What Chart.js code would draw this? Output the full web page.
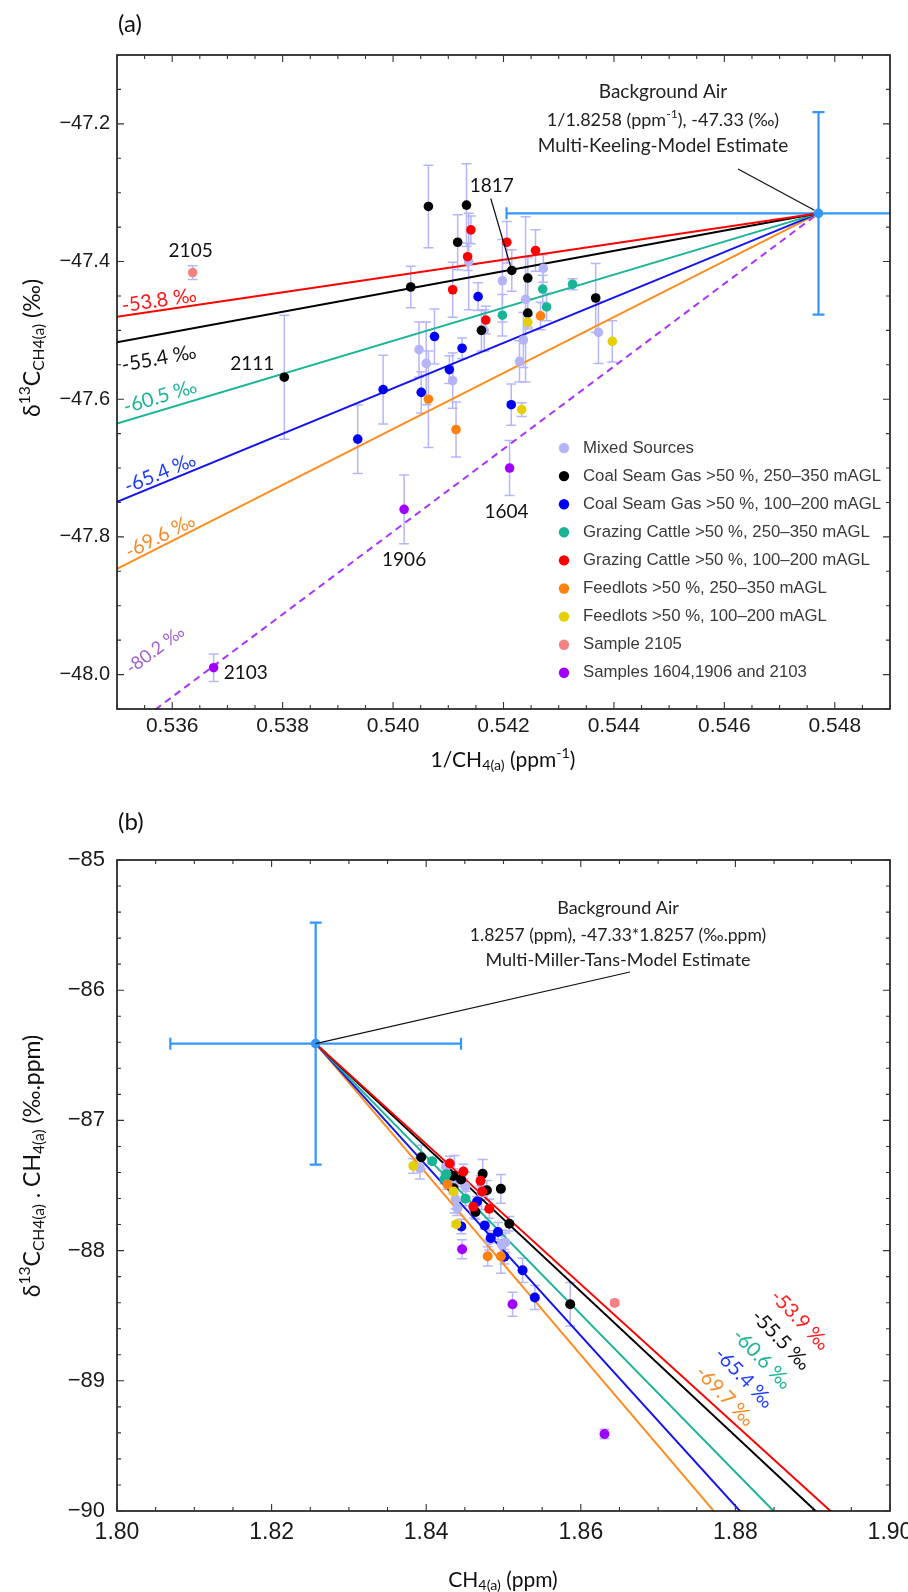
<!DOCTYPE html>
<html><head><meta charset="utf-8">
<script src="https://cdn.jsdelivr.net/npm/chart.js@4.4.1/dist/chart.umd.min.js"></script>
<style>
html,body{margin:0;padding:0;background:#fff;}
body{width:908px;height:1592px;position:relative;overflow:hidden;}
#ca{position:absolute;left:0;top:0;}
#cb{position:absolute;left:0;top:800px;}
</style></head><body>
<canvas id="ca" width="908" height="800"></canvas>
<canvas id="cb" width="908" height="792"></canvas>
<script>
// ---------------- DATA (panel a: x = 1/CH4 (ppm^-1), y = δ13C (‰), e = δ13C error) ----------------
const mixedX = [0.54047, 0.54060, 0.54108, 0.54198, 0.54165, 0.54272, 0.54372, 0.54236, 0.54229, 0.54137, 0.54240];
const mixedY = [-47.528, -47.548, -47.573, -47.428, -47.500, -47.410, -47.503, -47.514, -47.545, -47.400, -47.455];
const mixedE = [0.04, 0.06, 0.04, 0.06, 0.03, 0.02, 0.045, 0.04, 0.03, 0.07, 0.12];

const coal250X = [0.54064, 0.54133, 0.54117, 0.54032, 0.54160, 0.54215, 0.54244, 0.54244, 0.54367, 0.53803];
const coal250Y = [-47.320, -47.318, -47.372, -47.437, -47.500, -47.413, -47.424, -47.475, -47.453, -47.568];
const coal250E = [0.06, 0.06, 0.04, 0.03, 0.03, 0.03, 0.03, 0.02, 0.05, 0.09];

const coal100X = [0.54154, 0.54075, 0.54125, 0.54102, 0.53982, 0.54051, 0.53936, 0.54214];
const coal100Y = [-47.451, -47.509, -47.526, -47.557, -47.586, -47.590, -47.658, -47.608];
const coal100E = [0.02, 0.04, 0.015, 0.02, 0.05, 0.03, 0.05, 0.03];

const graze250X = [0.54198, 0.54271, 0.54278, 0.54325];
const graze250Y = [-47.478, -47.440, -47.466, -47.433];
const graze250E = [0.03, 0.02, 0.02, 0.008];

const graze100X = [0.54141, 0.54135, 0.54108, 0.54168, 0.54206, 0.54258];
const graze100Y = [-47.354, -47.393, -47.441, -47.485, -47.372, -47.384];
const graze100E = [0.02, 0.02, 0.04, 0.02, 0.03, 0.03];

const feed250X = [0.54064, 0.54114, 0.54267];
const feed250Y = [-47.600, -47.644, -47.479];
const feed250E = [0.07, 0.04, 0.02];

const feed100X = [0.54244, 0.54233, 0.54397];
const feed100Y = [-47.488, -47.615, -47.516];
const feed100E = [0.01, 0.01, 0.03];

const s2105X = [0.53637];
const s2105Y = [-47.416];
const s2105E = [0.01];

const sPurpleX = [0.54211, 0.54020, 0.53675];   // 1604, 1906, 2103
const sPurpleY = [-47.700, -47.760, -47.990];
const sPurpleE = [0.04, 0.05, 0.02];

const seriesNames = ['Mixed Sources', 'Coal Seam Gas >50 %, 250–350 mAGL', 'Coal Seam Gas >50 %, 100–200 mAGL',
  'Grazing Cattle >50 %, 250–350 mAGL', 'Grazing Cattle >50 %, 100–200 mAGL', 'Feedlots >50 %, 250–350 mAGL',
  'Feedlots >50 %, 100–200 mAGL', 'Sample 2105', 'Samples 1604,1906 and 2103'];
const seriesColors = ['rgb(180,180,246)', '#000000', 'rgb(0,0,245)', 'rgb(24,180,150)', 'rgb(255,0,0)',
  'rgb(255,128,10)', 'rgb(228,208,0)', 'rgb(245,130,130)', 'rgb(160,0,255)'];

// Background air estimates
const bgInv = 1 / 1.8258, bgDelta = -47.33, bgDeltaErr = 0.147, bgInvErr = 0.00565;
const bgCH4 = 1.8257, bgMT = -47.33 * 1.8257, bgMTErr = 0.93, bgCH4Err = 0.0188;

// source signatures
const keelingSig = [-53.8, -55.4, -60.5, -65.4, -69.6, -80.2];
const keelingColors = ['rgb(255,0,0)', '#000', 'rgb(26,180,150)', 'rgb(20,20,240)', 'rgb(255,140,30)', 'rgb(170,50,255)'];
const keelingLabelColors = ['rgb(255,20,20)', '#111', 'rgb(30,180,150)', 'rgb(30,60,255)', 'rgb(245,140,40)', 'rgb(160,95,205)'];
const millerSig = [-53.9, -55.5, -60.6, -65.4, -69.7];
const millerColors = ['rgb(255,0,0)', '#000', 'rgb(26,180,150)', 'rgb(20,20,240)', 'rgb(255,140,30)'];
const millerLabelColors = ['rgb(255,30,30)', '#111', 'rgb(30,180,150)', 'rgb(30,60,255)', 'rgb(245,140,40)'];

// axes
const xTicksA = [0.536, 0.538, 0.540, 0.542, 0.544, 0.546, 0.548];
const xTickLabelsA = ['0.536', '0.538', '0.540', '0.542', '0.544', '0.546', '0.548'];
const yTicksA = [-47.2, -47.4, -47.6, -47.8, -48.0];
const yTickLabelsA = ['−47.2', '−47.4', '−47.6', '−47.8', '−48.0'];
const xTicksB = [1.80, 1.82, 1.84, 1.86, 1.88, 1.90];
const xTickLabelsB = ['1.80', '1.82', '1.84', '1.86', '1.88', '1.90'];
const yTicksB = [-85, -86, -87, -88, -89, -90];
const yTickLabelsB = ['−85', '−86', '−87', '−88', '−89', '−90'];

// ---------------- helpers ----------------
const seriesX = [mixedX, coal250X, coal100X, graze250X, graze100X, feed250X, feed100X, s2105X, sPurpleX];
const seriesY = [mixedY, coal250Y, coal100Y, graze250Y, graze100Y, feed250Y, feed100Y, s2105Y, sPurpleY];
const seriesE = [mixedE, coal250E, coal100E, graze250E, graze100E, feed250E, feed100E, s2105E, sPurpleE];

const FAM = 'Lato, "Open Sans", sans-serif';
const TICKFAM = '"Liberation Sans", Arial, sans-serif';

function richWidth(ctx, parts, size, fam) {
  let w = 0;
  for (const [t, m] of parts) { ctx.font = (m ? size * 0.68 : size) + 'px ' + fam; w += ctx.measureText(t).width; }
  return w;
}
function drawRich(ctx, parts, x, y, size, fam, color, align) {
  const w = richWidth(ctx, parts, size, fam);
  let cx = align === 'center' ? x - w / 2 : align === 'right' ? x - w : x;
  ctx.fillStyle = color; ctx.textBaseline = 'middle'; ctx.textAlign = 'left';
  for (const [t, m] of parts) {
    const fs = m ? size * 0.68 : size;
    ctx.font = fs + 'px ' + fam;
    const dy = m === 1 ? -size * 0.33 : m === -1 ? size * 0.28 : 0;
    ctx.fillText(t, cx, y + dy);
    cx += ctx.measureText(t).width;
  }
}
function rotText(ctx, text, x, y, ang, size, color) {
  ctx.save(); ctx.translate(x, y); ctx.rotate(ang * Math.PI / 180);
  ctx.font = size + 'px ' + FAM; ctx.fillStyle = color; ctx.textAlign = 'center'; ctx.textBaseline = 'middle';
  ctx.fillText(text, 0, 0); ctx.restore();
}

// frame + inward ticks on all four sides
const framePlugin = {
  id: 'frame',
  afterDraw(chart, args, opts) {
    const { ctx, chartArea: a } = chart;
    const xs = chart.scales.x, ys = chart.scales.y;
    ctx.save();
    ctx.strokeStyle = '#111'; ctx.lineWidth = 1.6;
    ctx.strokeRect(a.left, a.top, a.right - a.left, a.bottom - a.top);
    ctx.lineWidth = 1.1; ctx.strokeStyle = '#333';
    const minors = (min, max, step) => { const r = []; for (let n = Math.ceil(min / step - 1e-6); n <= Math.floor(max / step + 1e-6); n++) r.push(n * step); return r; };
    ctx.beginPath();
    for (const v of minors(xs.min, xs.max, opts.xMinor)) {
      const major = opts.xMajor.some(m => Math.abs(m - v) < opts.xMinor / 10);
      const L = major ? 7 : 4, p = xs.getPixelForValue(v);
      ctx.moveTo(p, a.bottom); ctx.lineTo(p, a.bottom - L);
      ctx.moveTo(p, a.top); ctx.lineTo(p, a.top + L);
    }
    for (const v of minors(ys.min, ys.max, opts.yMinor)) {
      const major = opts.yMajor.some(m => Math.abs(m - v) < opts.yMinor / 10);
      const L = major ? 7 : 4, p = ys.getPixelForValue(v);
      ctx.moveTo(a.left, p); ctx.lineTo(a.left + L, p);
      ctx.moveTo(a.right, p); ctx.lineTo(a.right - L, p);
    }
    ctx.stroke();
    ctx.restore();
  }
};

// error bars drawn beneath the markers
const errPlugin = {
  id: 'errbars',
  beforeDatasetsDraw(chart) {
    const { ctx, chartArea: a } = chart;
    const xs = chart.scales.x, ys = chart.scales.y;
    ctx.save();
    ctx.beginPath(); ctx.rect(a.left, a.top, a.right - a.left, a.bottom - a.top); ctx.clip();
    chart.data.datasets.forEach(ds => {
      if (!ds.errY) return;
      ctx.strokeStyle = ds.errColor || 'rgb(182,182,252)';
      ctx.lineWidth = ds.errWidth || 1.5;
      const cap = ds.cap || 5;
      ds.data.forEach((d, i) => {
        const px = xs.getPixelForValue(d.x), py = ys.getPixelForValue(d.y);
        const e = ds.errY[i];
        const p1 = ys.getPixelForValue(d.y + e), p2 = ys.getPixelForValue(d.y - e);
        ctx.beginPath();
        ctx.moveTo(px, p1); ctx.lineTo(px, p2);
        ctx.moveTo(px - cap, p1); ctx.lineTo(px + cap, p1);
        ctx.moveTo(px - cap, p2); ctx.lineTo(px + cap, p2);
        if (ds.errX) {
          const q1 = xs.getPixelForValue(d.x - ds.errX[i]), q2 = xs.getPixelForValue(d.x + ds.errX[i]);
          ctx.moveTo(q1, py); ctx.lineTo(q2, py);
          ctx.moveTo(q1, py - cap); ctx.lineTo(q1, py + cap);
          ctx.moveTo(q2, py - cap); ctx.lineTo(q2, py + cap);
        }
        ctx.stroke();
      });
    });
    ctx.restore();
  }
};

const idA = (x, y) => ({ x, y });
const toB = (x, y) => ({ x: 1 / x, y: y / x });
function pointDatasets(transform, r) {
  const out = [];
  for (let s = 0; s < seriesX.length; s++) {
    const data = seriesX[s].map((x, i) => transform(x, seriesY[s][i]));
    const errs = seriesE[s].map((e, i) => transform === idA ? e : e / seriesX[s][i]);
    out.push({ label: seriesNames[s], data, errY: errs, backgroundColor: seriesColors[s], borderWidth: 0,
      pointRadius: r, pointHoverRadius: r, order: 10 - s });
  }
  return out;
}

function scaleCfg(min, max, ticks, labels, size, pad, fit, horiz) {
  return {
    type: 'linear', min, max,
    grid: { display: false, drawTicks: false }, border: { display: false },
    afterBuildTicks: s => { s.ticks = ticks.map(v => ({ value: v })); },
    afterFit: s => {
      if (horiz) { s.height = fit; s.paddingLeft = 0; s.paddingRight = 0; }
      else { s.width = fit; s.paddingTop = 0; s.paddingBottom = 0; }
    },
    ticks: {
      autoSkip: false, maxRotation: 0, minRotation: 0, padding: pad, color: '#1a1a1a',
      font: { family: TICKFAM, size },
      callback: v => { const k = ticks.findIndex(t => Math.abs(t - v) < 1e-9); return k >= 0 ? labels[k] : ''; }
    }
  };
}

// ---------------- PANEL (a) ----------------
const xMinA = 0.535, xMaxA = 0.549;
const dsA = [];
keelingSig.forEach((sig, k) => {
  const slope = (bgDelta - sig) / bgInv;
  dsA.push({ data: [{ x: xMinA, y: sig + slope * xMinA }, { x: bgInv, y: bgDelta }], showLine: true,
    borderColor: keelingColors[k], borderWidth: 2, pointRadius: 0, borderDash: k === 5 ? [7, 5] : [], order: 20 + k });
});
dsA.push(...pointDatasets(idA, 4.8));
dsA.push({ data: [{ x: bgInv, y: bgDelta }], errY: [bgDeltaErr], errX: [bgInvErr], errColor: 'rgb(50,150,255)',
  errWidth: 2.2, cap: 6, backgroundColor: 'rgb(50,150,255)', pointRadius: 4.8, borderWidth: 0, order: 0 });

const sampleLabelsA = [
  { t: '2105', s: 7, i: 0, dx: -2, dy: -22, al: 'center' },
  { t: '2111', s: 1, i: 9, dx: -32, dy: -13, al: 'center' },
  { t: '1817', s: 1, i: 5, dx: -20, dy: -85, al: 'center' },
  { t: '1906', s: 8, i: 1, dx: 0, dy: 51, al: 'center' },
  { t: '1604', s: 8, i: 0, dx: -3, dy: 44, al: 'center' },
  { t: '2103', s: 8, i: 2, dx: 10, dy: 5, al: 'left' }
];
const slopeLabA = [ // x (data), vertical pixel offset from line, angle, size
  { x: 0.53576, off: -10, ang: -8.4, sz: 20 }, { x: 0.53576, off: 24, ang: -10.4, sz: 20 }, { x: 0.53578, off: -14, ang: -16.7, sz: 20 },
  { x: 0.53578, off: -11, ang: -22.4, sz: 20 }, { x: 0.53578, off: -11, ang: -26.9, sz: 20 }, { x: 0.53569, off: -60, ang: -36.8, sz: 18 }
];

const annotA = {
  id: 'annotA',
  afterDraw(chart) {
    const { ctx } = chart; const xs = chart.scales.x, ys = chart.scales.y;
    ctx.save();
    ctx.font = '24px ' + FAM; ctx.fillStyle = '#111'; ctx.textAlign = 'left'; ctx.textBaseline = 'middle';
    ctx.fillText('(a)', 118, 24);
    keelingSig.forEach((sig, k) => {
      const slope = (bgDelta - sig) / bgInv; const L = slopeLabA[k];
      const px = xs.getPixelForValue(L.x), py = ys.getPixelForValue(sig + slope * L.x) + L.off;
      rotText(ctx, sig.toFixed(1) + ' ‰', px, py, L.ang, L.sz, keelingLabelColors[k]);
    });
    ctx.font = '19px ' + FAM; ctx.fillStyle = '#111'; ctx.textBaseline = 'middle';
    sampleLabelsA.forEach(L => {
      const px = xs.getPixelForValue(seriesX[L.s][L.i]), py = ys.getPixelForValue(seriesY[L.s][L.i]);
      ctx.textAlign = L.al; ctx.fillText(L.t, px + L.dx, py + L.dy);
    });
    const p17x = xs.getPixelForValue(coal250X[5]), p17y = ys.getPixelForValue(coal250Y[5]);
    ctx.strokeStyle = '#111'; ctx.lineWidth = 1.2;
    ctx.beginPath(); ctx.moveTo(p17x - 21, p17y - 72); ctx.lineTo(p17x, p17y); ctx.stroke();
    const bx = xs.getPixelForValue(bgInv), by = ys.getPixelForValue(bgDelta);
    ctx.beginPath(); ctx.moveTo(738, 169); ctx.lineTo(bx - 4, by - 3); ctx.stroke();
    ctx.font = '19px ' + FAM; ctx.fillStyle = '#222'; ctx.textAlign = 'center';
    ctx.fillText('Background Air', 663, 92);
    drawRich(ctx, [['1/1.8258 (ppm', 0], ['-1', 1], ['), -47.33 (‰)', 0]], 663, 120, 18, FAM, '#222', 'center');
    ctx.font = '19px ' + FAM; ctx.textAlign = 'center';
    ctx.fillText('Multi-Keeling-Model Estimate', 663, 146);
    seriesNames.forEach((n, k) => {
      const y = 448 + k * 28.1;
      ctx.beginPath(); ctx.fillStyle = seriesColors[k]; ctx.arc(564, y, 5.2, 0, Math.PI * 2); ctx.fill();
      ctx.font = '16.8px ' + TICKFAM; ctx.fillStyle = '#3a3a3a'; ctx.textAlign = 'left'; ctx.textBaseline = 'middle';
      ctx.fillText(n, 583, y);
    });
    drawRich(ctx, [['1/CH', 0], ['4(a)', -1], [' (ppm', 0], ['-1', 1], [')', 0]], 503, 760, 21, FAM, '#111', 'center');
    ctx.save(); ctx.translate(33, 348); ctx.rotate(-Math.PI / 2);
    drawRich(ctx, [['δ', 0], ['13', 1], ['C', 0], ['CH4(a)', -1], [' (‰)', 0]], 0, 0, 23, FAM, '#111', 'center');
    ctx.restore();
    ctx.restore();
  }
};

new Chart(document.getElementById('ca'), {
  type: 'scatter',
  data: { datasets: dsA },
  options: {
    responsive: false, animation: false, devicePixelRatio: 1,
    layout: { padding: { top: 55, right: 18, left: 0, bottom: 0 } },
    plugins: { legend: { display: false }, tooltip: { enabled: false },
      frame: { xMinor: 0.0005, yMinor: 0.05, xMajor: xTicksA, yMajor: yTicksA } },
    scales: {
      x: scaleCfg(xMinA, xMaxA, xTicksA, xTickLabelsA, 21, 5, 91, true),
      y: scaleCfg(-48.05, -47.1, yTicksA, yTickLabelsA, 20, 7, 117, false)
    }
  },
  plugins: [errPlugin, framePlugin, annotA]
});

// ---------------- PANEL (b) ----------------
const dsB = [];
millerSig.forEach((sig, k) => {
  const xEnd = bgCH4 + (-90.6 - bgMT) / sig;
  dsB.push({ data: [{ x: bgCH4, y: bgMT }, { x: xEnd, y: bgMT + sig * (xEnd - bgCH4) }], showLine: true,
    borderColor: millerColors[k], borderWidth: 2, pointRadius: 0, order: 20 + k });
});
dsB.push(...pointDatasets(toB, 5));
dsB.push({ data: [{ x: bgCH4, y: bgMT }], errY: [bgMTErr], errX: [bgCH4Err], errColor: 'rgb(50,150,255)',
  errWidth: 2.2, cap: 6, backgroundColor: 'rgb(50,150,255)', pointRadius: 4.8, borderWidth: 0, order: 0 });

const slopeLabB = [[800, 520], [781, 540], [762, 559], [744, 578], [725, 596]];

const annotB = {
  id: 'annotB',
  afterDraw(chart) {
    const { ctx } = chart; const xs = chart.scales.x, ys = chart.scales.y;
    ctx.save();
    ctx.font = '24px ' + FAM; ctx.fillStyle = '#111'; ctx.textAlign = 'left'; ctx.textBaseline = 'middle';
    ctx.fillText('(b)', 118, 22);
    millerSig.forEach((sig, k) => {
      rotText(ctx, sig.toFixed(1) + ' ‰', slopeLabB[k][0], slopeLabB[k][1], 46, 20, millerLabelColors[k]);
    });
    const bx = xs.getPixelForValue(bgCH4), by = ys.getPixelForValue(bgMT);
    ctx.strokeStyle = '#111'; ctx.lineWidth = 1.2;
    ctx.beginPath(); ctx.moveTo(bx, by); ctx.lineTo(630, 172); ctx.stroke();
    ctx.font = '18px ' + FAM; ctx.fillStyle = '#222'; ctx.textAlign = 'center'; ctx.textBaseline = 'middle';
    ctx.fillText('Background Air', 618, 108);
    ctx.font = '17.5px ' + FAM;
    ctx.fillText('1.8257 (ppm), -47.33*1.8257 (‰.ppm)', 618, 135);
    ctx.font = '18px ' + FAM;
    ctx.fillText('Multi-Miller-Tans-Model Estimate', 618, 160);
    drawRich(ctx, [['CH', 0], ['4(a)', -1], [' (ppm)', 0]], 503, 780, 21, FAM, '#111', 'center');
    ctx.save(); ctx.translate(33, 366); ctx.rotate(-Math.PI / 2);
    drawRich(ctx, [['δ', 0], ['13', 1], ['C', 0], ['CH4(a)', -1], [' . CH', 0], ['4(a)', -1], [' (‰.ppm)', 0]], 0, 0, 23, FAM, '#111', 'center');
    ctx.restore();
    ctx.restore();
  }
};

new Chart(document.getElementById('cb'), {
  type: 'scatter',
  data: { datasets: dsB },
  options: {
    responsive: false, animation: false, devicePixelRatio: 1,
    layout: { padding: { top: 60, right: 18, left: 0, bottom: 0 } },
    plugins: { legend: { display: false }, tooltip: { enabled: false },
      frame: { xMinor: 0.005, yMinor: 0.2, xMajor: xTicksB, yMajor: yTicksB } },
    scales: {
      x: scaleCfg(1.80, 1.90, xTicksB, xTickLabelsB, 23, 8, 81, true),
      y: scaleCfg(-90, -85, yTicksB, yTickLabelsB, 22, 12, 117, false)
    }
  },
  plugins: [errPlugin, framePlugin, annotB]
});
</script>
</body></html>
